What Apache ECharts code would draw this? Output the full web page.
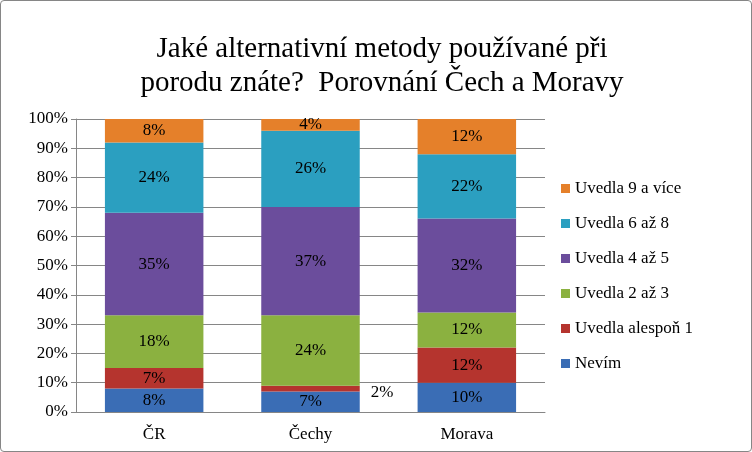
<!DOCTYPE html>
<html>
<head>
<meta charset="UTF-8">
<script src="https://cdn.jsdelivr.net/npm/echarts@6/dist/echarts.min.js"></script>
<style>
  html, body { margin: 0; padding: 0; background: #fff; }
  #main { width: 750px; height: 450px; border: 1px solid #868686; border-radius: 4px; }
</style>
</head>
<body>
<div id="main"></div>
<script>
var categories = ["ČR", "Čechy", "Morava"];
var seriesNames = ["Nevím", "Uvedla alespoň 1", "Uvedla 2 až 3", "Uvedla 4 až 5", "Uvedla 6 až 8", "Uvedla 9 a více"];
var nevim = [8, 7, 10];
var alespon1 = [7, 2, 12];
var dva3 = [18, 24, 12];
var ctyri5 = [35, 37, 32];
var sest8 = [24, 26, 22];
var devet = [8, 4, 12];
var colors = ["#3A6DB5", "#B5342E", "#8BB140", "#6B4D9C", "#2B9FC0", "#E5802A"];

var values = [nevim, alespon1, dva3, ctyri5, sest8, devet];
var font = "Liberation Serif";

var chart = echarts.init(document.getElementById("main"));
var series = values.map(function (vals, i) {
  return {
    name: seriesNames[i],
    type: "bar",
    stack: "total",
    barWidth: "63%",
    itemStyle: { color: colors[i] },
    label: {
      show: true,
      formatter: "{c}%",
      fontFamily: font,
      fontSize: 17,
      color: "#000"
    },
    data: vals.map(function (v, j) {
      // the 2% slice is too thin; label it beside the bar
      if (i === 1 && j === 1) {
        return { value: v, label: { position: "right", offset: [6, 4] } };
      }
      return v;
    })
  };
});

chart.setOption({
  animation: false,
  textStyle: { fontFamily: font },
  title: {
    text: "Jaké alternativní metody používané při\nporodu znáte?  Porovnání Čech a Moravy",
    left: 376,
    textAlign: "center",
    top: 26,
    textStyle: { fontFamily: font, fontSize: 29, fontWeight: "normal", lineHeight: 34, color: "#000" }
  },
  legend: {
    orient: "vertical",
    left: 555,
    top: 174,
    itemGap: 18,
    itemWidth: 9,
    itemHeight: 9,
    icon: "rect",
    data: seriesNames.slice().reverse(),
    textStyle: { fontFamily: font, fontSize: 17, color: "#000" }
  },
  grid: { left: 75, right: 206, top: 118, bottom: 39 },
  xAxis: {
    type: "category",
    data: categories,
    axisTick: { show: false },
    axisLine: { lineStyle: { color: "#868686" } },
    axisLabel: { fontFamily: font, fontSize: 17, color: "#000", margin: 14 }
  },
  yAxis: {
    type: "value",
    min: 0,
    max: 100,
    interval: 10,
    axisLine: { show: true, lineStyle: { color: "#868686" } },
    axisTick: { show: true, length: 5, lineStyle: { color: "#868686" } },
    splitLine: { lineStyle: { color: "#868686" } },
    axisLabel: { formatter: "{value}%", fontFamily: font, fontSize: 17, color: "#000" }
  },
  series: series
});
</script>
</body>
</html>
